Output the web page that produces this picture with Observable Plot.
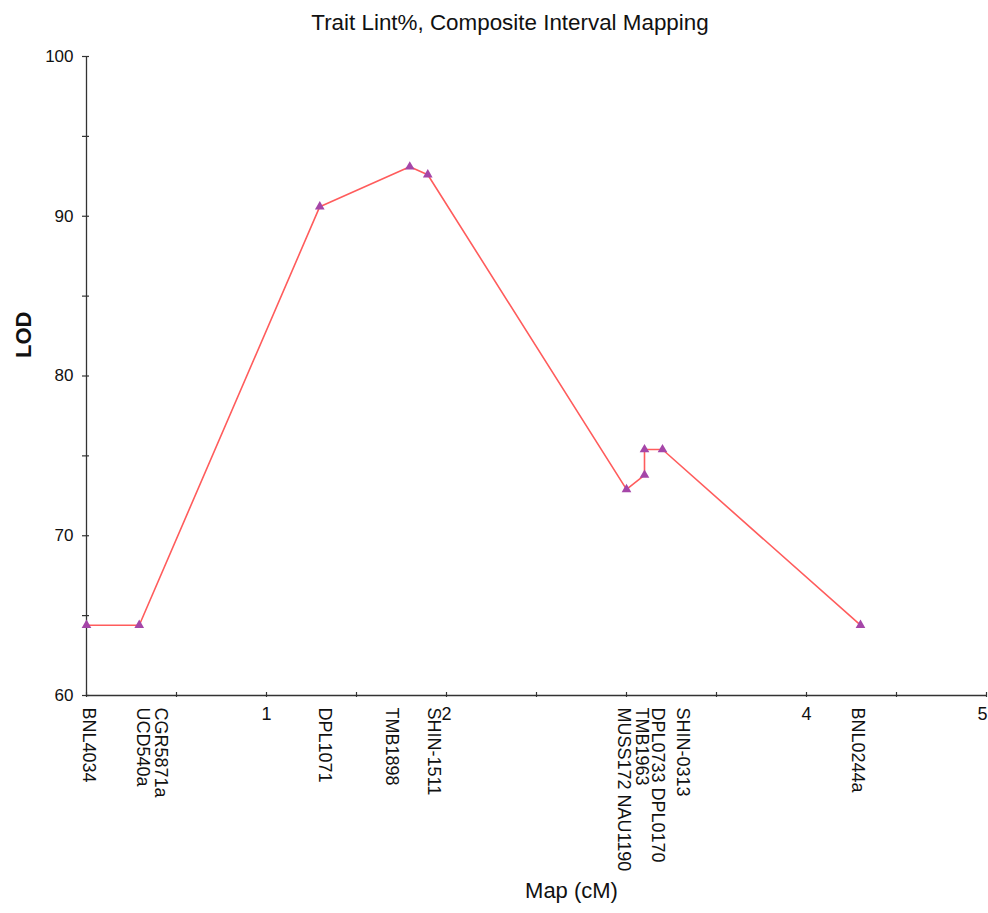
<!DOCTYPE html>
<html>
<head>
<meta charset="utf-8">
<script src="https://cdn.jsdelivr.net/npm/d3@7"></script>
<script src="https://cdn.jsdelivr.net/npm/@observablehq/plot@0.6"></script>
<style>
  html, body { margin: 0; padding: 0; background: #fff; }
  body { width: 988px; height: 913px; position: relative; overflow: hidden; font-family: "Liberation Sans", Arial, sans-serif; }
  #title { position: absolute; top: 12px; left: 510px; transform: translateX(-50%); white-space: nowrap; font-size: 22.4px; line-height: 22px; color: #111; }
  #chart { position: absolute; top: 40px; left: 0; }
</style>
</head>
<body>
<div id="title">Trait Lint%, Composite Interval Mapping</div>
<div id="chart"></div>
<script>
// Marker data
const markerNames = ["BNL4034", "CGR5871a\nUCD540a", "DPL1071", "TMB1898", "SHIN-1511", "MUSS172 NAU1190", "TMB1963", "DPL0733 DPL0170", "SHIN-0313", "BNL0244a"];
const positions = [0, 0.293, 1.296, 1.796, 1.896, 3.0, 3.10, 3.10, 3.20, 4.30];
const lodValues = [64.4, 64.4, 90.6, 93.1, 92.6, 72.9, 73.8, 75.4, 75.4, 64.4];
const labelPositions = [0.01, 0.308, 1.317, 1.69, 1.925, 2.983, 3.078, 3.167, 3.306, 4.283];
const xTickLabels = [1, 2, 4];
const xEdgeTickLabels = [5];
const xTickMarks = [0, 0.5, 1, 1.5, 2, 2.5, 3, 3.5, 4, 4.5, 5];
const yTickLabels = [60, 70, 80, 90, 100];
const yTickMarks = [60, 65, 70, 75, 80, 85, 90, 95, 100];

const data = markerNames.map((name, i) => ({name, pos: positions[i], lod: lodValues[i], labelPos: labelPositions[i]}));

const axisColor = "#333";
const font = "\"Liberation Sans\", Arial, sans-serif";

const chart = Plot.plot({
  width: 988,
  height: 873,
  marginTop: 16,
  marginBottom: 218,
  marginLeft: 86,
  marginRight: 2,
  style: {fontFamily: font, background: "#fff", color: "#111", overflow: "visible"},
  x: {domain: [0, 5], label: null},
  y: {domain: [60, 100], label: null},
  marks: [
    // axis lines
    Plot.ruleX([0], {stroke: axisColor, strokeWidth: 1.3}),
    Plot.ruleY([60], {stroke: axisColor, strokeWidth: 1.3}),
    // x ticks
    Plot.axisX({ticks: xTickMarks, tickSize: 5, dy: -3, text: null, stroke: axisColor, strokeWidth: 1.2}),
    Plot.axisX({ticks: xTickLabels, tickSize: 0, tickPadding: 12, fontSize: 18, tickFormat: d => String(d), fill: "#111"}),
    Plot.axisX({ticks: xEdgeTickLabels, tickSize: 0, tickPadding: 12, fontSize: 18, textAnchor: "end", dx: 1, tickFormat: d => String(d), fill: "#111"}),
    // y ticks
    Plot.axisY({ticks: yTickMarks, tickSize: 7, dx: 3, text: null, stroke: axisColor, strokeWidth: 1.2}),
    Plot.axisY({ticks: yTickLabels, tickSize: 0, tickPadding: 13, fontSize: 17, tickFormat: d => String(d), fill: "#111"}),
    // curve
    Plot.line(data, {x: "pos", y: "lod", stroke: "#ff5c5c", strokeWidth: 1.6}),
    Plot.dot(data, {x: "pos", y: "lod", symbol: "triangle", r: 3.6, fill: "#a546a8", stroke: "none"}),
    // marker labels
    Plot.text(data, {x: "labelPos", frameAnchor: "bottom", dx: -5, dy: 12, text: "name", rotate: 90, textAnchor: "start", fontSize: 18, lineHeight: 1.0, fill: "#111"}),
    // axis titles
    Plot.text(["Map (cM)"], {frameAnchor: "bottom", dx: 35, dy: 202, fontSize: 22, fill: "#111"}),
    Plot.text(["LOD"], {frameAnchor: "left", dx: -63, dy: -18, rotate: -90, fontSize: 22, fontWeight: "bold", fill: "#111"})
  ]
});
document.getElementById("chart").appendChild(chart);
</script>
</body>
</html>
